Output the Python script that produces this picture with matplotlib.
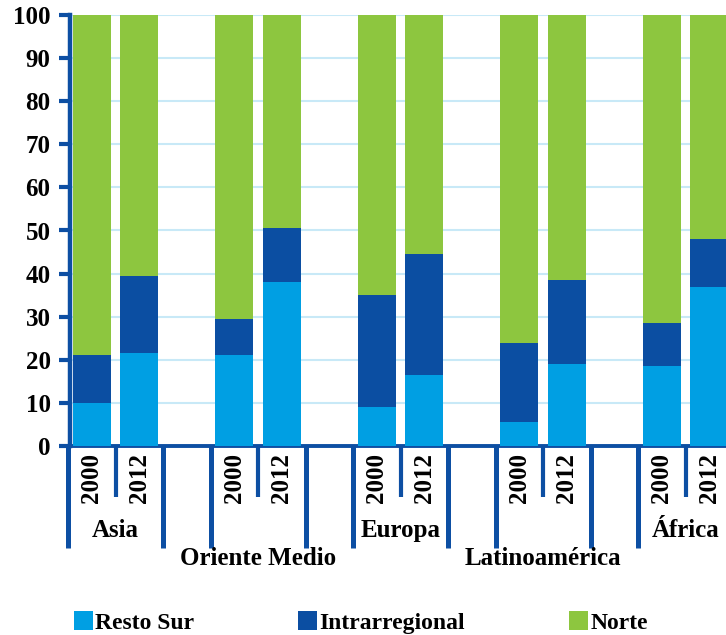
import matplotlib
matplotlib.use("Agg")
import matplotlib.pyplot as plt
import matplotlib.transforms as mtransforms
import numpy as np

groups = ['Asia', 'Oriente Medio', 'Europa', 'Latinoamérica', 'África']
years = ['2000', '2012']
resto_sur = [10, 21.5, 21, 38, 9, 16.5, 5.5, 19, 18.5, 37]
intrarregional = [11, 18, 8.5, 12.5, 26, 28, 18.5, 19.5, 10, 11]
norte = [79, 60.5, 70.5, 49.5, 65, 55.5, 76, 61.5, 71.5, 52]

c_sur = '#009fe3'
c_intra = '#0b4ea2'
c_norte = '#8dc63f'
c_axis = '#0d4fa3'
c_grid = '#c8e9f7'

plt.rcParams['font.family'] = ['Liberation Serif', 'DejaVu Serif']
plt.rcParams['font.weight'] = 'bold'
fs = 18

fig = plt.figure(figsize=(7.26, 6.35), dpi=100)
ax = fig.add_axes([70 / 726, 189 / 635, 656 / 726, 431 / 635])

# bar positions: 2 bars per group, one empty slot between groups
pos = np.array([g * 3 + j for g in range(len(groups)) for j in range(len(years))], dtype=float)
w = 0.8

resto = np.array(resto_sur)
intra = np.array(intrarregional)
nor = np.array(norte)
ax.bar(pos, resto, w, color=c_sur, label='Resto Sur', zorder=3)
ax.bar(pos, intra, w, bottom=resto, color=c_intra, label='Intrarregional', zorder=3)
ax.bar(pos, nor, w, bottom=resto + intra, color=c_norte, label='Norte', zorder=3)

ax.set_ylim(0, 100)
ax.set_xlim(-0.463, 13.35)
ax.set_yticks(np.arange(0, 101, 10))
ax.yaxis.grid(True, color=c_grid, linewidth=1.5, zorder=0)
ax.set_axisbelow(True)

for s in ['top', 'right']:
    ax.spines[s].set_visible(False)
ax.spines['left'].set_color(c_axis)
ax.spines['left'].set_linewidth(3.2)
ax.spines['bottom'].set_color(c_axis)
ax.spines['bottom'].set_linewidth(2.8)

ax.tick_params(axis='y', colors=c_axis, length=8, width=3, pad=6, labelsize=fs, labelcolor='black')
ax.set_xticks(pos)
ax.set_xticklabels(years * len(groups), rotation=90, fontsize=fs, va='top')
ax.tick_params(axis='x', length=0, pad=5)

# category separators below the axis
trans = mtransforms.blended_transform_factory(ax.transData, ax.transAxes)
for g in range(len(groups)):
    base = g * 3
    for x in (base - 0.5, base + 1.5):
        ax.plot([x, x], [0, -0.237], transform=trans, color=c_axis, lw=3.6,
                clip_on=False, solid_capstyle='butt')
    ax.plot([base + 0.5, base + 0.5], [0, -0.118], transform=trans, color=c_axis, lw=3,
            clip_on=False, solid_capstyle='butt')
    ypos = -0.195 if g % 2 == 0 else -0.260
    ax.text(base + 0.5, ypos, groups[g], transform=trans, ha='center', va='center',
            fontsize=fs, fontweight='bold')

leg = fig.legend(loc='lower left', bbox_to_anchor=(73 / 726, 0.0), ncol=3, frameon=False,
                 fontsize=17, handlelength=0.8, handleheight=0.85, handletextpad=0.1,
                 columnspacing=4.4, borderpad=0.0, borderaxespad=0.05)

fig.savefig('out.png', dpi=100)
